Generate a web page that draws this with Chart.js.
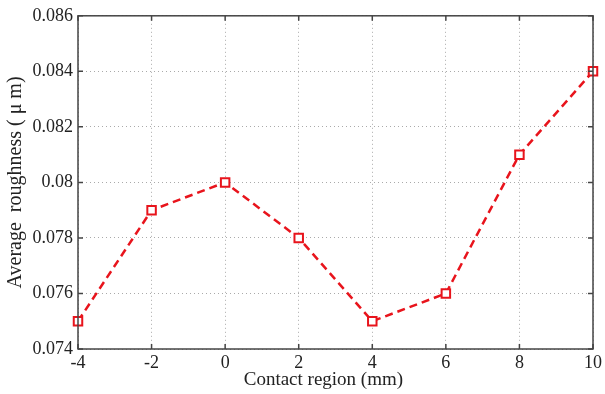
<!DOCTYPE html>
<html>
<head>
<meta charset="utf-8">
<script src="https://cdn.jsdelivr.net/npm/chart.js@4.4.1/dist/chart.umd.min.js"></script>
<style>
  html, body { margin: 0; padding: 0; background: #fff; }
  #wrap { width: 605px; height: 394px; position: relative; }
</style>
</head>
<body>
<div id="wrap"><canvas id="myChart"></canvas></div>
<script>
const positions = [-4, -2, 0, 2, 4, 6, 8, 10];
const roughness = [0.075, 0.079, 0.080, 0.078, 0.075, 0.076, 0.081, 0.084];
const yTickLabels = ['0.074', '0.076', '0.078', '0.08', '0.082', '0.084', '0.086'];
const xTickLabels = ['-4', '-2', '0', '2', '4', '6', '8', '10'];
const xTitle = 'Contact region (mm)';
const yTitle = 'Average  roughness ( μ m)';

const axisColor = '#444';
const serif = 'Liberation Serif, Times New Roman, serif';

// box around plot, inward ticks (MATLAB style) and x title a bit left of centre like the original
const boxPlugin = {
    id: 'box',
    afterDatasetsDraw(chart) {
        const { ctx, chartArea: a, scales } = chart;
        ctx.save();
        ctx.strokeStyle = axisColor;
        ctx.lineWidth = 1.5;
        ctx.strokeRect(a.left, a.top, a.right - a.left, a.bottom - a.top);
        scales.x.ticks.forEach(t => {
            const px = scales.x.getPixelForValue(t.value);
            ctx.beginPath();
            ctx.moveTo(px, a.bottom); ctx.lineTo(px, a.bottom - 5);
            ctx.moveTo(px, a.top); ctx.lineTo(px, a.top + 5);
            ctx.stroke();
        });
        scales.y.ticks.forEach(t => {
            const py = scales.y.getPixelForValue(t.value);
            ctx.beginPath();
            ctx.moveTo(a.left, py); ctx.lineTo(a.left + 5, py);
            ctx.moveTo(a.right, py); ctx.lineTo(a.right - 5, py);
            ctx.stroke();
        });
        ctx.fillStyle = '#222';
        ctx.font = '19px ' + serif;
        ctx.textAlign = 'center';
        ctx.textBaseline = 'alphabetic';
        ctx.fillText(xTitle, a.left + (a.right - a.left) * 0.4765, 385);
        ctx.restore();
    }
};

const ctx = document.getElementById('myChart');
new Chart(ctx, {
    type: 'line',
    data: {
        datasets: [{
            data: positions.map((x, i) => ({ x: x, y: roughness[i] })),
            borderColor: '#e8141c',
            borderWidth: 2.5,
            borderDash: [8, 5],
            pointStyle: 'rect',
            pointRadius: 6,
            pointBorderWidth: 2,
            pointBackgroundColor: '#fff',
            pointBorderColor: '#e8141c',
            tension: 0,
            clip: false
        }]
    },
    options: {
        responsive: true,
        maintainAspectRatio: false,
        animation: false,
        layout: { padding: { left: 0, top: 15, right: 9, bottom: 0 } },
        plugins: {
            legend: { display: false },
            tooltip: { enabled: false }
        },
        scales: {
            x: {
                type: 'linear',
                min: -4,
                max: 10,
                afterBuildTicks(scale) {
                    scale.ticks = positions.map(v => ({ value: v }));
                },
                afterFit(scale) { scale.height = 45; },
                ticks: {
                    color: '#222',
                    font: { family: serif, size: 18 },
                    padding: 3,
                    maxRotation: 0,
                    callback: (v, i) => xTickLabels[i]
                },
                grid: {
                    color: '#aaa',
                    lineWidth: 1,
                    drawTicks: false
                },
                border: { display: false, dash: [1, 3] }
            },
            y: {
                min: 0.074,
                max: 0.086,
                afterBuildTicks(scale) {
                    scale.ticks = yTickLabels.map(s => ({ value: parseFloat(s) }));
                },
                afterFit(scale) { scale.width = 78; },
                ticks: {
                    color: '#222',
                    font: { family: serif, size: 18 },
                    padding: 5,
                    callback: (v, i) => yTickLabels[i]
                },
                grid: {
                    color: '#aaa',
                    lineWidth: 1,
                    drawTicks: false
                },
                border: { display: false, dash: [1, 3] },
                title: {
                    display: true,
                    text: yTitle,
                    color: '#222',
                    font: { family: serif, size: 20 },
                    padding: { top: 4, bottom: 0 }
                }
            }
        }
    },
    plugins: [boxPlugin]
});
</script>
</body>
</html>
